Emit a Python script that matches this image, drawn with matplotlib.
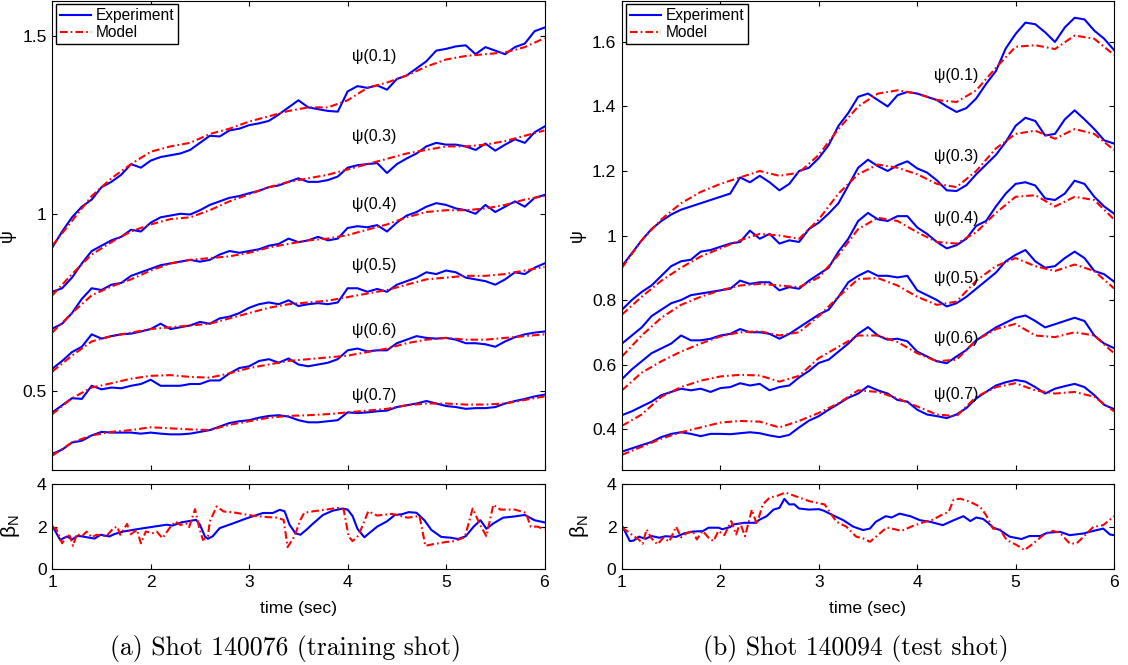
import numpy as np
import matplotlib.pyplot as plt

# region data
# time grids (sec)
t_exp = np.linspace(1.0, 6.0, 51)
t_mod = np.linspace(1.0, 6.0, 26)

profile_names = ['ψ(0.1)', 'ψ(0.3)', 'ψ(0.4)', 'ψ(0.5)', 'ψ(0.6)', 'ψ(0.7)']

# --- shot 140076 (training shot) ---
a_exp_01 = [0.905, 0.95, 0.99, 1.02, 1.04, 1.075, 1.09, 1.11, 1.14, 1.13, 1.15, 1.16, 1.165, 1.17, 1.18, 1.20,
            1.22, 1.218, 1.235, 1.24, 1.25, 1.255, 1.262, 1.28, 1.30, 1.32, 1.30, 1.295, 1.29, 1.288, 1.345, 1.36,
            1.355, 1.362, 1.35, 1.38, 1.39, 1.41, 1.43, 1.46, 1.465, 1.472, 1.475, 1.45, 1.47, 1.46, 1.45, 1.47,
            1.48, 1.515, 1.525]
a_mod_01 = [0.91, 0.98, 1.05, 1.10, 1.14, 1.175, 1.19, 1.20, 1.225, 1.24, 1.26, 1.275, 1.29, 1.30, 1.30, 1.32,
            1.355, 1.37, 1.39, 1.415, 1.435, 1.445, 1.45, 1.455, 1.47, 1.495]
a_exp_03 = [0.78, 0.79, 0.82, 0.86, 0.895, 0.91, 0.925, 0.935, 0.955, 0.95, 0.975, 0.99, 0.995, 1.0, 0.998, 1.01,
            1.025, 1.035, 1.045, 1.05, 1.058, 1.065, 1.075, 1.08, 1.09, 1.10, 1.09, 1.09, 1.095, 1.105, 1.13, 1.137,
            1.14, 1.143, 1.115, 1.14, 1.156, 1.17, 1.19, 1.20, 1.195, 1.195, 1.19, 1.18, 1.198, 1.178, 1.195, 1.21,
            1.20, 1.23, 1.246]
a_mod_03 = [0.77, 0.83, 0.885, 0.92, 0.95, 0.97, 0.985, 0.99, 1.01, 1.035, 1.055, 1.075, 1.09, 1.10, 1.11, 1.125,
            1.14, 1.155, 1.17, 1.18, 1.19, 1.19, 1.195, 1.205, 1.22, 1.235]
a_exp_04 = [0.676, 0.69, 0.72, 0.76, 0.79, 0.785, 0.80, 0.805, 0.825, 0.835, 0.845, 0.855, 0.86, 0.865, 0.87, 0.865,
            0.87, 0.885, 0.895, 0.89, 0.895, 0.90, 0.91, 0.915, 0.93, 0.92, 0.925, 0.935, 0.925, 0.93, 0.96, 0.965,
            0.962, 0.968, 0.95, 0.975, 0.995, 1.005, 1.02, 1.03, 1.025, 1.015, 1.01, 1.0, 1.025, 1.005, 1.02, 1.035,
            1.02, 1.045, 1.053]
a_mod_04 = [0.665, 0.72, 0.77, 0.795, 0.815, 0.84, 0.86, 0.87, 0.875, 0.88, 0.89, 0.905, 0.915, 0.925, 0.93, 0.94,
            0.955, 0.97, 0.99, 1.005, 1.01, 1.01, 1.015, 1.025, 1.04, 1.05]
a_exp_05 = [0.563, 0.585, 0.61, 0.625, 0.66, 0.648, 0.655, 0.66, 0.662, 0.668, 0.675, 0.69, 0.675, 0.68, 0.685,
            0.695, 0.69, 0.705, 0.71, 0.72, 0.735, 0.745, 0.75, 0.745, 0.756, 0.74, 0.745, 0.748, 0.745, 0.75, 0.79,
            0.79, 0.78, 0.788, 0.78, 0.80, 0.81, 0.82, 0.835, 0.83, 0.84, 0.835, 0.82, 0.815, 0.81, 0.80, 0.815,
            0.835, 0.83, 0.848, 0.86]
a_mod_05 = [0.555, 0.60, 0.64, 0.655, 0.665, 0.675, 0.68, 0.685, 0.69, 0.705, 0.72, 0.735, 0.745, 0.75, 0.755,
            0.765, 0.775, 0.785, 0.80, 0.815, 0.82, 0.825, 0.825, 0.83, 0.84, 0.85]
a_exp_06 = [0.44, 0.46, 0.48, 0.478, 0.515, 0.505, 0.51, 0.508, 0.515, 0.52, 0.532, 0.515, 0.515, 0.515, 0.52, 0.52,
            0.53, 0.53, 0.55, 0.565, 0.57, 0.585, 0.59, 0.58, 0.592, 0.575, 0.57, 0.575, 0.58, 0.59, 0.615, 0.62,
            0.612, 0.615, 0.615, 0.635, 0.645, 0.655, 0.65, 0.648, 0.65, 0.645, 0.635, 0.635, 0.632, 0.625, 0.64,
            0.652, 0.66, 0.665, 0.668]
a_mod_06 = [0.435, 0.48, 0.51, 0.522, 0.535, 0.543, 0.545, 0.54, 0.538, 0.55, 0.565, 0.575, 0.585, 0.59, 0.595,
            0.60, 0.61, 0.62, 0.635, 0.645, 0.65, 0.645, 0.645, 0.65, 0.655, 0.66]
a_exp_07 = [0.323, 0.335, 0.355, 0.36, 0.375, 0.385, 0.383, 0.383, 0.383, 0.38, 0.383, 0.38, 0.378, 0.378, 0.38,
            0.385, 0.39, 0.40, 0.41, 0.415, 0.418, 0.425, 0.43, 0.432, 0.428, 0.418, 0.412, 0.412, 0.415, 0.418,
            0.44, 0.438, 0.44, 0.443, 0.445, 0.455, 0.46, 0.465, 0.472, 0.465, 0.458, 0.455, 0.45, 0.452, 0.452,
            0.455, 0.465, 0.472, 0.478, 0.485, 0.49]
a_mod_07 = [0.318, 0.355, 0.375, 0.385, 0.39, 0.398, 0.395, 0.392, 0.39, 0.405, 0.415, 0.425, 0.43, 0.432, 0.435,
            0.44, 0.445, 0.45, 0.46, 0.465, 0.465, 0.462, 0.462, 0.465, 0.475, 0.485]

a_beta_t_exp = [1.0, 1.08, 1.15, 1.2, 1.26, 1.33, 1.43, 1.49, 1.58, 1.63, 1.72, 1.82, 1.93, 2.03, 2.16, 2.22, 2.31,
                2.40, 2.46, 2.5, 2.55, 2.58, 2.63, 2.70, 2.84, 2.98, 3.14, 3.24, 3.31, 3.36, 3.41, 3.47, 3.52, 3.58,
                3.65, 3.75, 3.85, 3.95, 4.0, 4.05, 4.1, 4.17, 4.22, 4.3, 4.4, 4.48, 4.55, 4.62, 4.7, 4.78, 4.85,
                4.95, 5.05, 5.12, 5.2, 5.28, 5.35, 5.41, 5.48, 5.58, 5.7, 5.8, 5.9, 6.0]
a_beta_exp = [2.04, 1.38, 1.54, 1.40, 1.57, 1.52, 1.44, 1.62, 1.54, 1.65, 1.77, 1.85, 1.93, 2.0, 2.09, 2.05, 2.2,
              2.27, 2.32, 2.09, 1.54, 1.43, 1.55, 1.93, 2.16, 2.4, 2.64, 2.64, 2.79, 2.72, 2.09, 1.69, 1.62, 1.85,
              2.15, 2.55, 2.75, 2.85, 2.8, 2.5, 1.9, 1.5, 1.7, 2.0, 2.25, 2.55, 2.58, 2.68, 2.65, 2.3, 1.85, 1.52,
              1.48, 1.42, 1.55, 2.0, 2.3, 1.9, 2.15, 2.42, 2.48, 2.55, 2.3, 2.2]
a_beta_t_mod = [1.0, 1.04, 1.1, 1.15, 1.18, 1.21, 1.25, 1.3, 1.35, 1.4, 1.45, 1.55, 1.62, 1.66, 1.69, 1.76, 1.79,
                1.86, 1.9, 1.95, 2.02, 2.06, 2.12, 2.19, 2.25, 2.3, 2.36, 2.39, 2.45, 2.49, 2.53, 2.58, 2.6, 2.67,
                2.74, 2.84, 3.04, 3.18, 3.28, 3.35, 3.39, 3.46, 3.52, 3.56, 3.65, 3.75, 3.9, 3.96, 4.01, 4.05, 4.11,
                4.21, 4.3, 4.45, 4.61, 4.73, 4.79, 4.87, 5.0, 5.08, 5.19, 5.27, 5.35, 5.41, 5.48, 5.55, 5.7, 5.81,
                5.86, 5.93, 6.0]
a_beta_mod = [1.98, 1.9, 1.22, 1.62, 1.55, 1.1, 1.66, 1.55, 1.77, 1.5, 1.62, 1.55, 1.93, 2.0, 1.62, 2.13, 1.62,
              1.85, 1.22, 1.77, 1.7, 1.77, 1.46, 1.93, 2.24, 2.08, 2.15, 1.98, 2.82, 2.0, 1.38, 1.54, 2.24, 2.95,
              2.71, 2.67, 2.51, 2.45, 2.42, 2.32, 1.04, 1.54, 2.32, 2.65, 2.72, 2.78, 2.88, 2.8, 1.55, 1.32, 1.58,
              2.72, 2.52, 2.6, 2.42, 2.5, 1.1, 1.18, 1.28, 1.32, 1.5, 2.85, 2.05, 1.55, 3.03, 2.8, 2.8, 2.65, 2.0,
              2.0, 1.87]

# --- shot 140094 (test shot) ---
b_exp_01 = [0.905, 0.945, 0.985, 1.02, 1.045, 1.065, 1.08, 1.09, 1.10, 1.11, 1.12, 1.13, 1.18, 1.165, 1.185, 1.165,
            1.14, 1.16, 1.20, 1.21, 1.24, 1.28, 1.34, 1.38, 1.43, 1.44, 1.42, 1.40, 1.435, 1.445, 1.44, 1.43, 1.42,
            1.40, 1.383, 1.395, 1.425, 1.47, 1.51, 1.58, 1.625, 1.66, 1.655, 1.63, 1.60, 1.645, 1.675, 1.67, 1.635,
            1.61, 1.575]
b_mod_01 = [0.90, 0.985, 1.05, 1.10, 1.135, 1.16, 1.18, 1.20, 1.185, 1.195, 1.25, 1.33, 1.40, 1.44, 1.45, 1.44,
            1.42, 1.414, 1.45, 1.52, 1.585, 1.59, 1.578, 1.62, 1.61, 1.56]
b_exp_03 = [0.77, 0.80, 0.825, 0.845, 0.875, 0.905, 0.92, 0.925, 0.95, 0.955, 0.965, 0.975, 0.98, 1.015, 0.99,
            1.005, 0.975, 0.985, 0.98, 1.02, 1.04, 1.068, 1.10, 1.155, 1.21, 1.235, 1.215, 1.20, 1.218, 1.23, 1.208,
            1.195, 1.171, 1.14, 1.138, 1.156, 1.19, 1.22, 1.25, 1.29, 1.34, 1.365, 1.355, 1.31, 1.315, 1.36, 1.388,
            1.36, 1.33, 1.295, 1.285]
b_mod_03 = [0.755, 0.81, 0.86, 0.90, 0.935, 0.96, 0.985, 1.005, 1.0, 0.99, 1.05, 1.13, 1.19, 1.22, 1.21, 1.19,
            1.16, 1.15, 1.20, 1.27, 1.315, 1.325, 1.30, 1.33, 1.315, 1.265]
b_exp_04 = [0.665, 0.69, 0.715, 0.75, 0.77, 0.79, 0.80, 0.815, 0.82, 0.825, 0.83, 0.835, 0.86, 0.85, 0.855, 0.855,
            0.83, 0.84, 0.835, 0.86, 0.88, 0.90, 0.95, 0.99, 1.045, 1.07, 1.05, 1.045, 1.06, 1.06, 1.025, 1.005,
            0.98, 0.96, 0.97, 0.99, 1.03, 1.045, 1.09, 1.13, 1.16, 1.165, 1.155, 1.115, 1.11, 1.13, 1.17, 1.16,
            1.12, 1.09, 1.068]
b_mod_04 = [0.625, 0.69, 0.745, 0.785, 0.81, 0.83, 0.845, 0.85, 0.845, 0.84, 0.87, 0.94, 1.02, 1.055, 1.045, 1.01,
            0.98, 0.975, 1.01, 1.07, 1.12, 1.125, 1.09, 1.12, 1.11, 1.05]
b_exp_05 = [0.555, 0.585, 0.61, 0.635, 0.65, 0.665, 0.69, 0.675, 0.675, 0.68, 0.69, 0.695, 0.71, 0.70, 0.70, 0.695,
            0.68, 0.695, 0.715, 0.735, 0.755, 0.77, 0.81, 0.855, 0.875, 0.89, 0.875, 0.875, 0.87, 0.875, 0.83, 0.815,
            0.80, 0.78, 0.79, 0.81, 0.835, 0.86, 0.885, 0.92, 0.94, 0.955, 0.92, 0.90, 0.905, 0.93, 0.95, 0.93,
            0.89, 0.88, 0.857]
b_mod_05 = [0.52, 0.575, 0.61, 0.64, 0.665, 0.687, 0.70, 0.703, 0.69, 0.70, 0.75, 0.81, 0.865, 0.868, 0.845, 0.81,
            0.785, 0.795, 0.86, 0.905, 0.93, 0.905, 0.89, 0.91, 0.89, 0.836]
b_exp_06 = [0.443, 0.455, 0.47, 0.485, 0.505, 0.515, 0.525, 0.52, 0.525, 0.515, 0.527, 0.53, 0.542, 0.535, 0.54,
            0.52, 0.53, 0.535, 0.56, 0.58, 0.605, 0.615, 0.64, 0.665, 0.695, 0.716, 0.69, 0.677, 0.68, 0.672, 0.64,
            0.625, 0.61, 0.604, 0.625, 0.645, 0.675, 0.695, 0.715, 0.73, 0.745, 0.752, 0.735, 0.715, 0.725, 0.735,
            0.745, 0.735, 0.69, 0.665, 0.651]
b_mod_06 = [0.41, 0.445, 0.50, 0.53, 0.55, 0.563, 0.568, 0.566, 0.547, 0.565, 0.62, 0.655, 0.69, 0.69, 0.67, 0.635,
            0.61, 0.615, 0.675, 0.71, 0.726, 0.69, 0.685, 0.70, 0.69, 0.635]
b_exp_07 = [0.33, 0.34, 0.35, 0.36, 0.375, 0.385, 0.39, 0.385, 0.378, 0.385, 0.385, 0.384, 0.387, 0.39, 0.387, 0.38,
            0.375, 0.382, 0.405, 0.426, 0.44, 0.46, 0.478, 0.497, 0.51, 0.533, 0.52, 0.51, 0.49, 0.485, 0.46, 0.445,
            0.44, 0.434, 0.445, 0.465, 0.495, 0.515, 0.535, 0.545, 0.552, 0.547, 0.53, 0.51, 0.525, 0.533, 0.54,
            0.53, 0.505, 0.475, 0.462]
b_mod_07 = [0.32, 0.345, 0.37, 0.39, 0.405, 0.42, 0.425, 0.423, 0.405, 0.425, 0.45, 0.48, 0.52, 0.515, 0.495, 0.47,
            0.445, 0.44, 0.50, 0.53, 0.542, 0.52, 0.51, 0.515, 0.50, 0.455]

b_beta_t_exp = [1.0, 1.08, 1.12, 1.17, 1.24, 1.3, 1.38, 1.44, 1.55, 1.63, 1.72, 1.82, 1.88, 1.98, 2.02, 2.1, 2.13,
                2.24, 2.35, 2.4, 2.47, 2.54, 2.6, 2.65, 2.7, 2.75, 2.8, 2.9, 3.0, 3.05, 3.11, 3.25, 3.35, 3.45, 3.52,
                3.58, 3.68, 3.74, 3.82, 3.93, 4.03, 4.13, 4.26, 4.37, 4.47, 4.54, 4.6, 4.67, 4.72, 4.77, 4.84, 4.94,
                5.06, 5.14, 5.25, 5.32, 5.45, 5.55, 5.69, 5.79, 5.89, 5.96, 6.0]
b_beta_exp = [2.05, 1.32, 1.35, 1.53, 1.43, 1.56, 1.48, 1.55, 1.52, 1.68, 1.77, 1.79, 1.95, 1.95, 1.88, 1.98, 2.1,
              2.18, 2.18, 2.33, 2.49, 2.8, 2.88, 3.3, 3.04, 3.05, 2.85, 2.8, 2.82, 2.75, 2.61, 2.3, 2.0, 1.84, 1.91,
              2.23, 2.49, 2.43, 2.61, 2.49, 2.3, 2.23, 2.07, 2.3, 2.49, 2.26, 2.43, 2.36, 2.18, 1.96, 1.84, 1.53,
              1.42, 1.56, 1.56, 1.71, 1.76, 1.6, 1.68, 1.8, 1.91, 1.63, 1.6]
b_beta_t_mod = [1.0, 1.05, 1.12, 1.17, 1.21, 1.25, 1.3, 1.36, 1.42, 1.48, 1.55, 1.6, 1.66, 1.72, 1.76, 1.82, 1.88,
                1.93, 1.98, 2.04, 2.11, 2.16, 2.2, 2.25, 2.32, 2.37, 2.43, 2.5, 2.58, 2.66, 2.75, 2.9, 3.06, 3.11,
                3.18, 3.28, 3.38, 3.45, 3.52, 3.6, 3.69, 3.78, 3.84, 3.95, 4.06, 4.16, 4.26, 4.32, 4.37, 4.44, 4.54,
                4.64, 4.70, 4.77, 4.84, 4.91, 5.01, 5.09, 5.18, 5.28, 5.38, 5.45, 5.55, 5.62, 5.69, 5.79, 5.89, 6.0]
b_beta_mod = [1.95, 1.8, 1.55, 1.4, 1.2, 1.87, 1.45, 1.17, 1.48, 1.3, 2.0, 1.5, 1.7, 1.79, 1.4, 1.8, 1.48, 1.32,
              1.8, 1.6, 2.26, 1.63, 2.18, 1.55, 2.8, 2.1, 3.04, 3.36, 3.45, 3.6, 3.45, 3.2, 3.04, 2.69, 2.23, 2.0,
              1.53, 1.45, 1.29, 1.6, 1.96, 1.87, 1.8, 2.02, 2.2, 2.33, 2.58, 2.69, 3.27, 3.31, 3.16, 2.93, 2.54,
              1.91, 1.87, 1.37, 1.14, 0.9, 1.21, 1.6, 1.8, 1.71, 1.21, 1.21, 1.53, 1.99, 2.07, 2.49]
# endregion

plt.rcParams['font.family'] = ['Liberation Sans', 'DejaVu Sans']
plt.rcParams['mathtext.fontset'] = 'custom'
plt.rcParams['mathtext.rm'] = 'Liberation Sans'
plt.rcParams['mathtext.it'] = 'Liberation Sans:italic'
plt.rcParams['lines.scale_dashes'] = False

W, H = 1128, 665
DASH = (5.5, 2.2, 1.2, 2.2)


def frac(x0, y0, x1, y1):
    # pixel box -> figure fraction [left, bottom, width, height]
    return [x0 / W, 1 - y1 / H, (x1 - x0) / W, (y1 - y0) / H]


def style(ax):
    ax.tick_params(direction='in', top=True, right=True, length=3.6, width=0.8,
                   labelsize=12.6, pad=4)
    for s in ax.spines.values():
        s.set_linewidth(0.8)


def panel(x0, x1, exps, mods, beta, ylim, yticks, yticklabels, label_t, label_y, caption, cap_x):
    ax = fig.add_axes(frac(x0, 1, x1, 470))
    for i, (e, m) in enumerate(zip(exps, mods)):
        ax.plot(t_exp, e, color='blue', lw=1.5, label='Experiment' if i == 0 else None)
        ax.plot(t_mod, m, color='red', lw=1.5, dashes=DASH, label='Model' if i == 0 else None)
    for name, ty in zip(profile_names, label_y):
        ax.text(label_t, ty, name, fontsize=11.5, ha='center', va='center')
    ax.set_xlim(1, 6)
    ax.set_ylim(*ylim)
    ax.set_xticks([1, 2, 3, 4, 5, 6])
    ax.set_xticklabels([])
    ax.set_yticks(yticks)
    ax.set_yticklabels(yticklabels)
    ax.set_ylabel('ψ', fontsize=13)
    ax.yaxis.set_label_coords(-0.073, 0.5)
    style(ax)
    ax.legend(loc='upper left', bbox_to_anchor=(0.008, 0.993), fontsize=11.2, frameon=True,
              fancybox=False, framealpha=1, edgecolor='black', borderpad=0.25,
              handlelength=2.0, handletextpad=0.3, labelspacing=0.12, borderaxespad=0)

    bx = fig.add_axes(frac(x0, 484, x1, 569.3))
    bt_e, bv_e, bt_m, bv_m = beta
    bx.plot(bt_e, bv_e, color='blue', lw=1.5)
    bx.plot(bt_m, bv_m, color='red', lw=1.5, dashes=DASH)
    bx.set_xlim(1, 6)
    bx.set_ylim(0, 4)
    bx.set_xticks([1, 2, 3, 4, 5, 6])
    bx.set_yticks([0, 2, 4])
    bx.set_ylabel(r'$\mathregular{\beta_N}$', fontsize=15)
    bx.yaxis.set_label_coords(-0.062, 0.5)
    bx.set_xlabel('time (sec)', fontsize=12.6)
    bx.xaxis.set_label_coords(0.5, -0.37)
    style(bx)

    fig.text(cap_x / W, 1 - 655 / H, caption, family='cmr10', fontsize=18.5,
             ha='center', va='baseline')


fig = plt.figure(figsize=(W / 100, H / 100), dpi=100)

panel(52.3, 544.5,
      [a_exp_01, a_exp_03, a_exp_04, a_exp_05, a_exp_06, a_exp_07],
      [a_mod_01, a_mod_03, a_mod_04, a_mod_05, a_mod_06, a_mod_07],
      (a_beta_t_exp, a_beta_exp, a_beta_t_mod, a_beta_mod),
      (0.2775, 1.6), [0.5, 1, 1.5], ['0.5', '1', '1.5'],
      4.27, [1.444, 1.218, 1.026, 0.855, 0.672, 0.487],
      '(a) Shot 140076 (training shot)', 286)

panel(622, 1114,
      [b_exp_01, b_exp_03, b_exp_04, b_exp_05, b_exp_06, b_exp_07],
      [b_mod_01, b_mod_03, b_mod_04, b_mod_05, b_mod_06, b_mod_07],
      (b_beta_t_exp, b_beta_exp, b_beta_t_mod, b_beta_mod),
      (0.273, 1.727), [0.4, 0.6, 0.8, 1.0, 1.2, 1.4, 1.6],
      ['0.4', '0.6', '0.8', '1', '1.2', '1.4', '1.6'],
      4.40, [1.497, 1.244, 1.054, 0.868, 0.682, 0.506],
      '(b) Shot 140094 (test shot)', 856)

fig.savefig('out.png', dpi=100)
